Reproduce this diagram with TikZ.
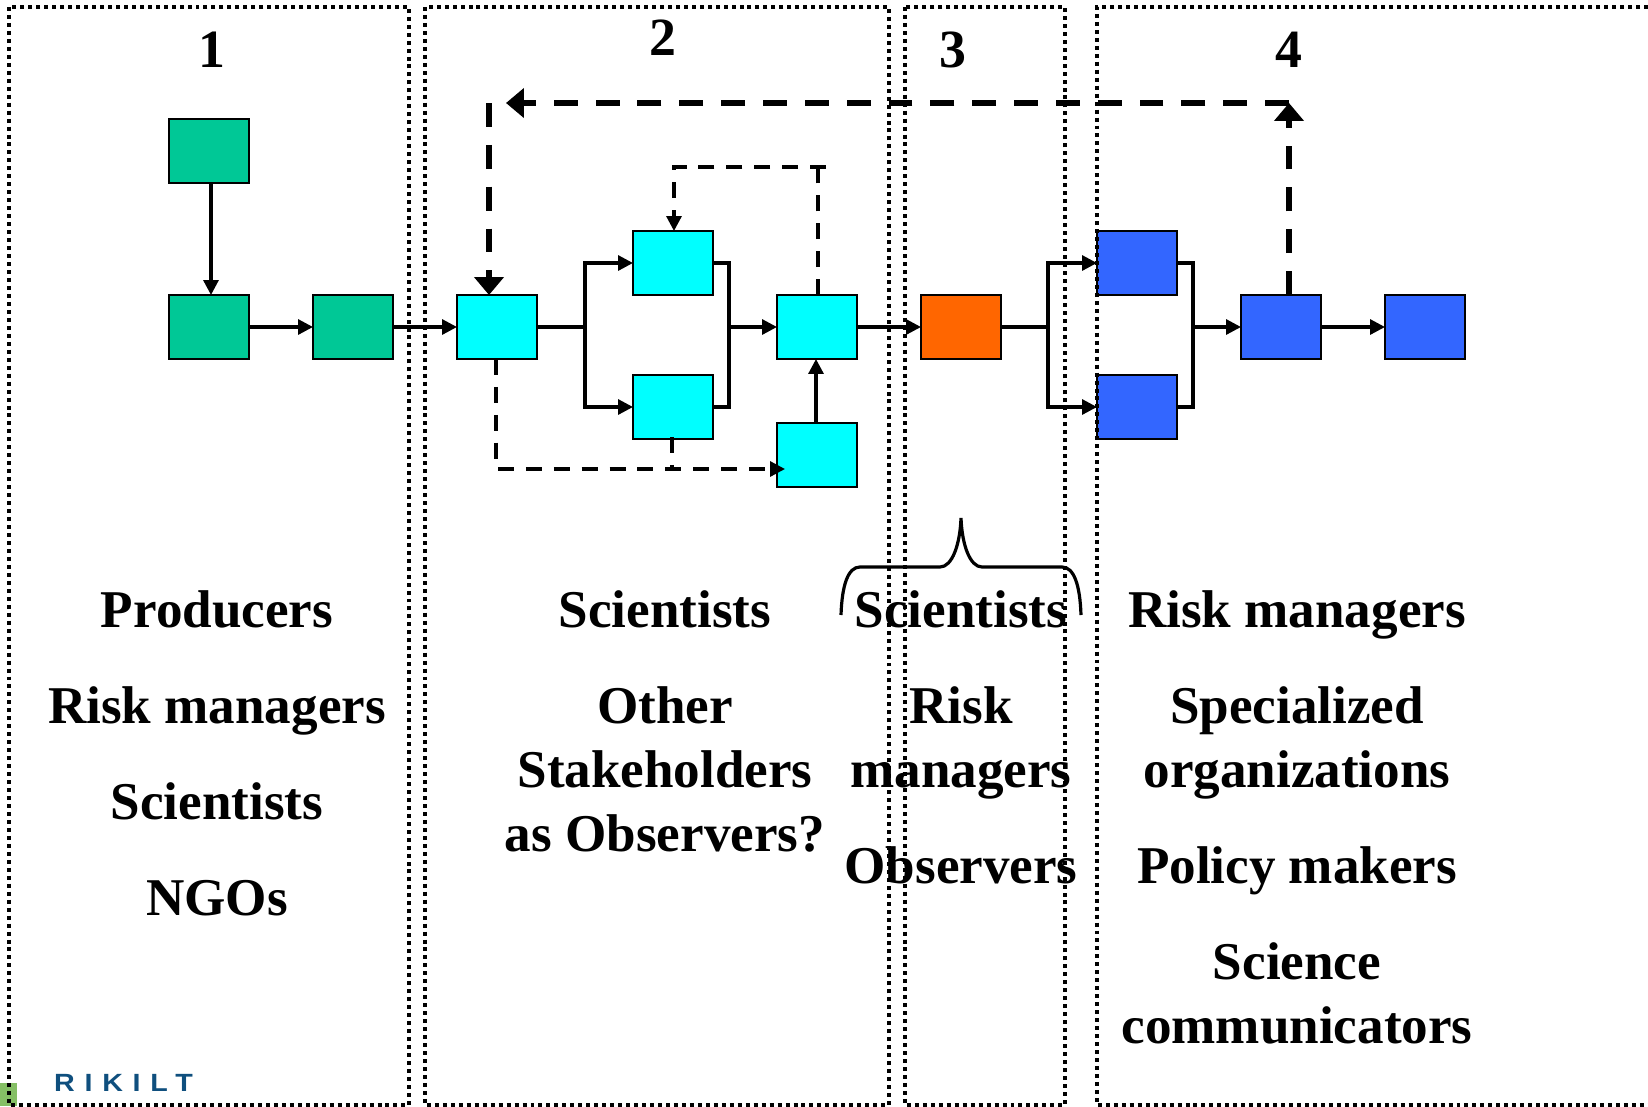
\documentclass[tikz,border=0pt]{standalone}
\usepackage{fontspec}
\setmainfont{Liberation Serif}
\newfontfamily\logofont[LetterSpace=39,FakeStretch=1.15]{Liberation Sans}
\usetikzlibrary{arrows.meta}

\definecolor{boxgreen}{HTML}{00C896}
\definecolor{boxcyan}{HTML}{00FFFF}
\definecolor{boxorange}{HTML}{FF6600}
\definecolor{boxblue}{HTML}{3366FF}
\definecolor{logoblue}{HTML}{0F4F7E}
\definecolor{logogreen}{HTML}{85BF65}

\tikzset{
  stepbox/.style={draw=black,line width=2pt,inner sep=0pt,outer sep=0pt,minimum width=80bp,minimum height=64bp},
  paneltext/.style={anchor=base,inner sep=0pt,font=\fontsize{53.3}{60}\selectfont\bfseries},
  panelnum/.style={anchor=base,inner sep=0pt,font=\fontsize{54}{60}\selectfont\bfseries},
  flow/.style={line width=3.2pt},
  flowtip/.style={flow,-{Triangle[length=15pt,width=15pt]}},
  loopdash/.style={line width=3.2pt,dash pattern=on 16pt off 12pt},
  looptip/.style={loopdash,-{Triangle[length=15pt,width=15pt]}},
  bigdash/.style={line width=5.4pt,dash pattern=on 24pt off 18pt},
  bigtip/.style={bigdash,-{Triangle[length=18pt,width=29pt]}},
  framedot/.style={line width=3.6pt,dash pattern=on 4pt off 4pt}
}

\begin{document}
\begin{tikzpicture}[x=1bp,y=-1bp]
    \useasboundingbox (0,0) rectangle (1648,1106);
    \fill[logogreen] (0,1083) rectangle (17,1106);
    %boxes
    \node[stepbox,fill=boxgreen] (greenA) at (209,151) {};
    \node[stepbox,fill=boxgreen] (greenB) at (209,327) {};
    \node[stepbox,fill=boxgreen] (greenC) at (353,327) {};
    \node[stepbox,fill=boxcyan] (cyanA) at (497,327) {};
    \node[stepbox,fill=boxcyan] (cyanB) at (673,263) {};
    \node[stepbox,fill=boxcyan] (cyanC) at (673,407) {};
    \node[stepbox,fill=boxcyan] (cyanD) at (817,327) {};
    \node[stepbox,fill=boxcyan] (cyanE) at (817,455) {};
    \node[stepbox,fill=boxorange] (orangeA) at (961,327) {};
    \node[stepbox,fill=boxblue] (blueA) at (1137,263) {};
    \node[stepbox,fill=boxblue] (blueB) at (1137,407) {};
    \node[stepbox,fill=boxblue] (blueC) at (1281,327) {};
    \node[stepbox,fill=boxblue] (blueD) at (1425,327) {};
    %junctions
    \coordinate (forkA) at (585,327);
    \coordinate (mergeA) at (729,327);
    \coordinate (forkB) at (1048,327);
    \coordinate (mergeB) at (1193,327);
    %solid arrows
    \draw[flowtip] ([xshift=2pt]greenA.south) -- ([xshift=2pt]greenB.north);
    \draw[flowtip] (greenB) -- (greenC);
    \draw[flowtip] (greenC) -- (cyanA);
    \draw[flow] (cyanA) -- (forkA);
    \draw[flowtip] (forkA) |- (cyanB);
    \draw[flowtip] (forkA) |- (cyanC);
    \draw[flow] (cyanB.east) -| (mergeA) |- (cyanC.east);
    \draw[flowtip] (mergeA) -- (cyanD);
    \draw[flowtip] ([xshift=-1pt]cyanE.north) -- ([xshift=-1pt]cyanD.south);
    \draw[flowtip] (cyanD) -- (orangeA);
    \draw[flow] (orangeA) -- (forkB);
    \draw[flowtip] (forkB) |- (blueA);
    \draw[flowtip] (forkB) |- (blueB);
    \draw[flow] (blueA.east) -| (mergeB) |- (blueB.east);
    \draw[flowtip] (mergeB) -- (blueC);
    \draw[flowtip] (blueC) -- (blueD);
    %thin dashed loops
    \coordinate (loopA) at (818,167);
    \coordinate (loopB) at (826,167);
    \coordinate (lowA) at (496,469);
    \coordinate (lowB) at (498,469);
    \coordinate (lowC) at (785,469);
    \coordinate (lowD) at (672,469);
    \draw[loopdash] (cyanD.north -| loopA) -- (loopA);
    \draw[looptip] (loopB) -| ([xshift=1pt]cyanB.north);
    \draw[loopdash] (cyanA.south -| lowA) -- (lowA);
    \draw[looptip] (lowB) -- (lowC);
    \draw[loopdash] ([yshift=2pt]cyanC.south -| lowD) -- (lowD);
    %thick dashed loop
    \coordinate (topA) at (1289,103);
    \coordinate (topB) at (506,103);
    \coordinate (topC) at (489,103);
    \draw[bigtip] (blueC.north -| topA) -- (topA);
    \draw[bigtip] (topA) -- (topB);
    \draw[bigtip] (topC) -- (cyanA.north -| topC);
    %frames
    \draw[framedot] (9,7) rectangle (409,1105);
    \draw[framedot] (425,7) rectangle (889,1105);
    \draw[framedot] (905,7) rectangle (1065,1105);
    \draw[framedot] (1648,7) -- (1097,7) -- (1097,1105) -- (1648,1105);
    %brace
    \draw[flow] (841,615) .. controls (842,585) and (848,567) .. (860,567) -- (940,567)
      .. controls (952,567) and (960,545) .. (961,518)
      .. controls (962,545) and (970,567) .. (982,567) -- (1062,567)
      .. controls (1074,567) and (1080,585) .. (1081,615);
    %(1)
    \node[panelnum] (numA) at (211.5,67) {1};
    \node[paneltext] (prodA) at (217,627) {Producers};
    \node[paneltext] (prodB) at (217,723) {Risk managers};
    \node[paneltext] (prodC) at (217,819) {Scientists};
    \node[paneltext] (prodD) at (217,915) {NGOs};
    %(2)
    \node[panelnum] (numB) at (662.5,55) {2};
    \node[paneltext] (sciA) at (665,627) {Scientists};
    \node[paneltext] (sciB) at (665,723) {Other};
    \node[paneltext] (sciC) at (665,787) {Stakeholders};
    \node[paneltext] (sciD) at (665,851) {as Observers?};
    %(3)
    \node[panelnum] (numC) at (952.5,67) {3};
    \node[paneltext] (revA) at (961,627) {Scientists};
    \node[paneltext] (revB) at (961,723) {Risk};
    \node[paneltext] (revC) at (961,787) {managers};
    \node[paneltext] (revD) at (961,883) {Observers};
    %(4)
    \node[panelnum] (numD) at (1289,67) {4};
    \node[paneltext] (mgrA) at (1297,627) {Risk managers};
    \node[paneltext] (mgrB) at (1297,723) {Specialized};
    \node[paneltext] (mgrC) at (1297,787) {organizations};
    \node[paneltext] (mgrD) at (1297,883) {Policy makers};
    \node[paneltext] (mgrE) at (1297,979) {Science};
    \node[paneltext] (mgrF) at (1297,1043) {communicators};
    %logo
    \node[anchor=base west,inner sep=0pt,text=logoblue,font=\logofont\fontsize{25}{25}\selectfont\bfseries] (logoA) at (54,1091) {RIKILT};
\end{tikzpicture}
\end{document}
